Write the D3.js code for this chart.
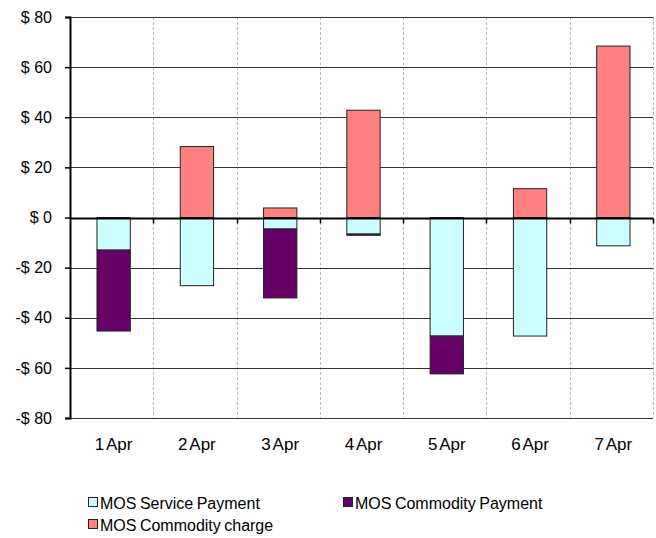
<!DOCTYPE html>
<html>
<head>
<meta charset="utf-8">
<script src="https://cdn.jsdelivr.net/npm/d3@7"></script>
<style>
  body { margin: 0; background: #fff; }
  text { font-family: "Liberation Sans", Arial, sans-serif; }
</style>
</head>
<body>
<script>
// chart data
var days = ["1 Apr", "2 Apr", "3 Apr", "4 Apr", "5 Apr", "6 Apr", "7 Apr"];
var servicePayment = [-13, -27.2, -4.6, -6.6, -47.3, -47.3, -11.3];
var commodityPayment = [-32.3, 0, -27.5, -0.5, -15.1, 0, 0];
var commodityCharge = [0, 28.3, 3.8, 42.8, 0, 11.5, 68.4];
var yTicks = [-80, -60, -40, -20, 0, 20, 40, 60, 80];

var seriesNames = ["MOS Service Payment", "MOS Commodity Payment", "MOS Commodity charge"];
var colors = ["#CCFFFF", "#660066", "#FF8080"];

var width = 656, height = 538;
var margin = { top: 17, right: 3, bottom: 120, left: 70 };
var chartWidth = width - margin.left - margin.right;
var chartHeight = height - margin.top - margin.bottom;

var svg = d3.select("body").append("svg")
    .attr("width", width)
    .attr("height", height);

var chartGroup = svg.append("g")
    .attr("transform", `translate(${margin.left}, ${margin.top})`);

// build rows for the stack
var rows = days.map(function(d, i) {
  return { day: d, s0: servicePayment[i], s1: commodityPayment[i], s2: commodityCharge[i] };
});
var stacked = d3.stack().keys(["s0", "s1", "s2"]).offset(d3.stackOffsetDiverging)(rows);

var x = d3.scaleBand().domain(days).range([0, chartWidth]).paddingInner(0).paddingOuter(0);
var y = d3.scaleLinear().domain([-80, 80]).range([chartHeight, 0]);

// vertical dashed grid at category boundaries
chartGroup.selectAll("line.vgrid")
  .data(days)
  .enter().append("line")
    .attr("class", "vgrid")
    .attr("x1", (d, i) => Math.round(x.step() * (i + 1)) + 0.5)
    .attr("x2", (d, i) => Math.round(x.step() * (i + 1)) + 0.5)
    .attr("y1", 0)
    .attr("y2", chartHeight)
    .attr("stroke", "#bbb")
    .attr("stroke-dasharray", "3,2");

// horizontal gridlines
chartGroup.selectAll("line.hgrid")
  .data(yTicks.filter(t => t !== 0))
  .enter().append("line")
    .attr("class", "hgrid")
    .attr("x1", 0)
    .attr("x2", chartWidth)
    .attr("y1", d => Math.round(y(d)) + 0.5)
    .attr("y2", d => Math.round(y(d)) + 0.5)
    .attr("stroke", "#333")
    .attr("stroke-width", 1);

// bars
var barW = x.bandwidth() * 0.4;
chartGroup.selectAll("g.series")
  .data(stacked)
  .enter().append("g")
    .attr("class", "series")
    .attr("fill", (d, i) => colors[i])
  .selectAll("rect")
  .data(d => d.filter(p => p[1] !== p[0]))
  .enter().append("rect")
    .attr("x", d => x(d.data.day) + (x.bandwidth() - barW) / 2 + 2)
    .attr("width", barW)
    .attr("y", d => y(Math.max(d[0], d[1])))
    .attr("height", d => Math.abs(y(d[0]) - y(d[1])))
    .attr("stroke", "#222")
    .attr("stroke-width", 1);

// zero line with tick marks below
var zeroY = Math.round(y(0)) + 0.5;
chartGroup.append("line")
    .attr("x1", 0).attr("x2", chartWidth)
    .attr("y1", zeroY).attr("y2", zeroY)
    .attr("stroke", "#000").attr("stroke-width", 2);
chartGroup.selectAll("line.xtick")
  .data(days)
  .enter().append("line")
    .attr("x1", (d, i) => Math.round(x.step() * (i + 1)) + 0.5)
    .attr("x2", (d, i) => Math.round(x.step() * (i + 1)) + 0.5)
    .attr("y1", zeroY).attr("y2", zeroY + 5)
    .attr("stroke", "#000").attr("stroke-width", 1.5);

// left axis
var leftAxis = d3.axisLeft(y)
    .tickValues(yTicks)
    .tickSize(5)
    .tickPadding(13)
    .tickFormat(d => (d < 0 ? "-$ " : "$ ") + Math.abs(d));
var yAxisG = chartGroup.append("g").call(leftAxis);
yAxisG.select(".domain").attr("stroke", "#000").attr("stroke-width", 2);
yAxisG.selectAll(".tick line").attr("stroke", "#000").attr("stroke-width", 1.5);
yAxisG.selectAll(".tick text").attr("font-size", 16).attr("fill", "#000")
    .attr("font-family", "'Liberation Sans', Arial, sans-serif");

// x category labels
chartGroup.selectAll("text.xlabel")
  .data(days)
  .enter().append("text")
    .attr("class", "xlabel")
    .attr("x", d => x(d) + x.bandwidth() / 2 + 2)
    .attr("y", chartHeight + 32)
    .attr("text-anchor", "middle")
    .attr("font-size", 17)
    .attr("word-spacing", -2)
    .text(d => d);

// legend
var legendPos = [[88, 502], [343, 502], [88, 524]];
var legend = svg.selectAll("g.legend")
  .data(seriesNames)
  .enter().append("g")
    .attr("class", "legend")
    .attr("transform", (d, i) => `translate(${legendPos[i][0]}, ${legendPos[i][1]})`);
legend.append("rect")
    .attr("x", 0.5).attr("y", -4.5)
    .attr("width", 9).attr("height", 9)
    .attr("fill", (d, i) => colors[i])
    .attr("stroke", "#222");
legend.append("text")
    .attr("x", 12).attr("y", 7)
    .attr("font-size", 16)
    .attr("word-spacing", -1)
    .text(d => d);
</script>
</body>
</html>
